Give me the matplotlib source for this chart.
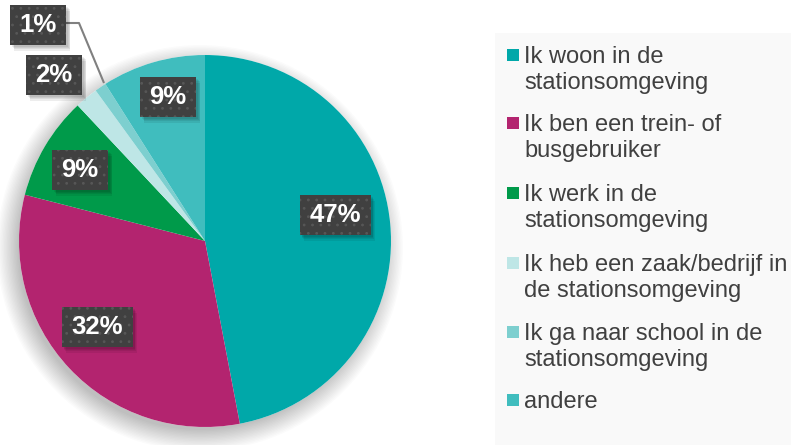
import matplotlib
matplotlib.use("Agg")
import matplotlib.pyplot as plt
from matplotlib.patches import Rectangle, Circle

plt.rcParams['font.family'] = ['Liberation Sans', 'DejaVu Sans']
plt.rcParams['hatch.linewidth'] = 0.8

# ---- data ----
categories = [
    "Ik woon in de\nstationsomgeving",
    "Ik ben een trein- of\nbusgebruiker",
    "Ik werk in de\nstationsomgeving",
    "Ik heb een zaak/bedrijf in\nde stationsomgeving",
    "Ik ga naar school in de\nstationsomgeving",
    "andere",
]
values = [47, 32, 9, 2, 1, 9]
colors = ["#00A8A9", "#B3246F", "#009A4A", "#BEE6E6", "#7DCFCF", "#40BDBE"]

# label box centres (pixels from top-left)
label_pos = [(335, 215), (97, 327), (80, 170), (54, 75), (38, 25), (168, 97)]

W, H = 791, 445
fig = plt.figure(figsize=(W / 100, H / 100), dpi=100)
ax = fig.add_axes([0, 0, 1, 1])

cx, cy, R = 205, 241, 186

# soft shadow behind the pie
for i in range(16):
    ax.add_patch(Circle((cx - 5, H - cy - 7), R - 4 + i * 1.4, color="black",
                        alpha=0.014, lw=0, zorder=0))
ax.add_patch(Circle((cx, H - cy), R, color="white", lw=0, zorder=0.5))

ax.pie(values, colors=colors, startangle=90, counterclock=False,
       center=(cx, H - cy), radius=R, wedgeprops=dict(linewidth=0),
       frame=True)

# leader line for 1%
ax.plot([66, 79, 104], [H - 23, H - 23, H - 83], color="#808080", lw=1.5,
        zorder=3, solid_capstyle="butt")

# label boxes
for v, (x, y) in zip(values, label_pos):
    txt = f"{v}%"
    w = 71 if len(txt) == 3 else 56
    h = 40
    for k in range(4):
        ax.add_patch(Rectangle((x - w / 2 + 2 + k * 0.8, H - y - h / 2 - 2 - k * 1.2),
                               w, h, fc="black", alpha=0.07, lw=0, zorder=4))
    ax.add_patch(Rectangle((x - w / 2, H - y - h / 2), w, h, fc="#404040",
                           ec="#575757", lw=0, hatch="..", zorder=5))
    ax.text(x, H - y, txt, ha="center", va="center", color="white",
            fontsize=18.5, fontweight="bold", zorder=6)

# legend panel
ax.add_patch(Rectangle((495, 0), W - 495, H - 33, fc="#F9F9F9", lw=0, zorder=1))
entry_y = [55, 123, 193, 263, 332, 400]
for lab, col, y in zip(categories, colors, entry_y):
    ax.add_patch(Rectangle((507, H - y - 6), 12, 12, fc=col, lw=0, zorder=2))
    ax.text(524, H - y + 9, lab, ha="left", va="top", fontsize=17,
            color="#404040", linespacing=1.22, zorder=3)

ax.set_xlim(0, W)
ax.set_ylim(0, H)
ax.set_aspect("auto")
ax.axis("off")

fig.savefig("out.png", dpi=100)
